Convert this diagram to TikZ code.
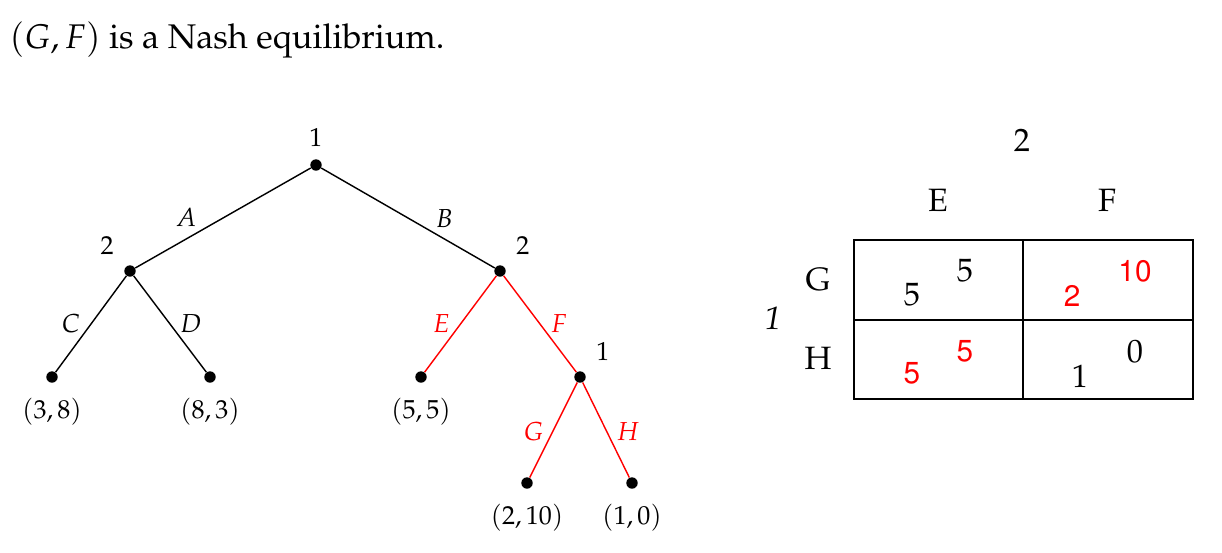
\documentclass[tikz,border=0pt]{standalone}
\usepackage[T1]{fontenc}
\usepackage{mathpazo}
\usepackage[scaled=.92]{helvet}

\tikzset{
  dot/.style={circle, fill, inner sep=0pt, minimum size=6pt},
  move/.style={line width=0.75pt},
  eqm/.style={move, red},
  big/.style={font=\fontsize{17}{20}\selectfont},
  redbig/.style={red, font=\fontsize{17}{20}\selectfont\sffamily},
}

\begin{document}
\begin{tikzpicture}[x=0.526pt, y=-0.526pt, every label/.style={font=\fontsize{13.7}{16}\selectfont}]
  \useasboundingbox (0,0) rectangle (1222,552);
  \node[anchor=west, font=\fontsize{18}{21}\selectfont] (title) at (3,40) {$(G,F)$ is a Nash equilibrium.};

  % game tree
  \begin{scope}[font=\fontsize{13.7}{16}\selectfont]
  \node[dot, label={[label distance=3.2pt]above:1}] (r) at (316,165) {};
  \node[dot, label={[label distance=4pt]above left:2}] (a) at (130,271) {};
  \node[dot, label={[label distance=4pt]above right:2}] (b) at (500,271) {};
  \node[dot, label={[label distance=4.2pt]below:$(3,8)$}] (c) at (52,377) {};
  \node[dot, label={[label distance=4.2pt]below:$(8,3)$}] (d) at (210,377) {};
  \node[dot, label={[label distance=4.2pt]below:$(5,5)$}] (e) at (421,377) {};
  \node[dot, label={[label distance=4pt]above right:1}] (f) at (580,377) {};
  \node[dot, label={[label distance=4.2pt]below:$(2,10)$}] (g) at (527,483) {};
  \node[dot, label={[label distance=4.2pt]below:$(1,0)$}] (h) at (632,483) {};

  \draw[move] (r) -- (a) node[pos=.71, yshift=11.5pt] {$A$};
  \draw[move] (r) -- (b) node[pos=.71, yshift=11pt] {$B$};
  \draw[move] (a) -- (c) node[pos=.5, xshift=-10.5pt] {$C$};
  \draw[move] (a) -- (d) node[pos=.5, xshift=11pt] {$D$};
  % equilibrium path in red
  \draw[eqm] (b) -- (e) node[pos=.5, xshift=-10pt] {$E$};
  \draw[eqm] (b) -- (f) node[pos=.5, xshift=10pt] {$F$};
  \draw[eqm] (f) -- (g) node[pos=.52, xshift=-10pt] {$G$};
  \draw[eqm] (f) -- (h) node[pos=.52, xshift=11pt] {$H$};
  \end{scope}

  % normal form
  \draw[line width=0.8pt] (854,240) rectangle (1193,399);
  \draw[line width=0.8pt] (1023,240) -- (1023,399);
  \draw[line width=0.8pt] (854,320) -- (1193,320);
  \node[big] (p2) at (1022,140) {2};
  \node[big] (cE) at (938,200) {E};
  \node[big] (cF) at (1107,200) {F};
  \node[big] (p1) at (773,318) {\textit{1}};
  \node[big] (rG) at (818,280) {G};
  \node[big] (rH) at (818,358) {H};
  \node[big] (ge1) at (912,295) {5};
  \node[big] (ge2) at (965,271) {5};
  \node[redbig] (gf1) at (1072,296) {2};
  \node[redbig] (gf2) at (1135,271) {10};
  \node[redbig] (he1) at (912,374) {5};
  \node[redbig] (he2) at (965,352) {5};
  \node[big] (hf1) at (1080,376) {1};
  \node[big] (hf2) at (1135,352) {0};
\end{tikzpicture}
\end{document}
